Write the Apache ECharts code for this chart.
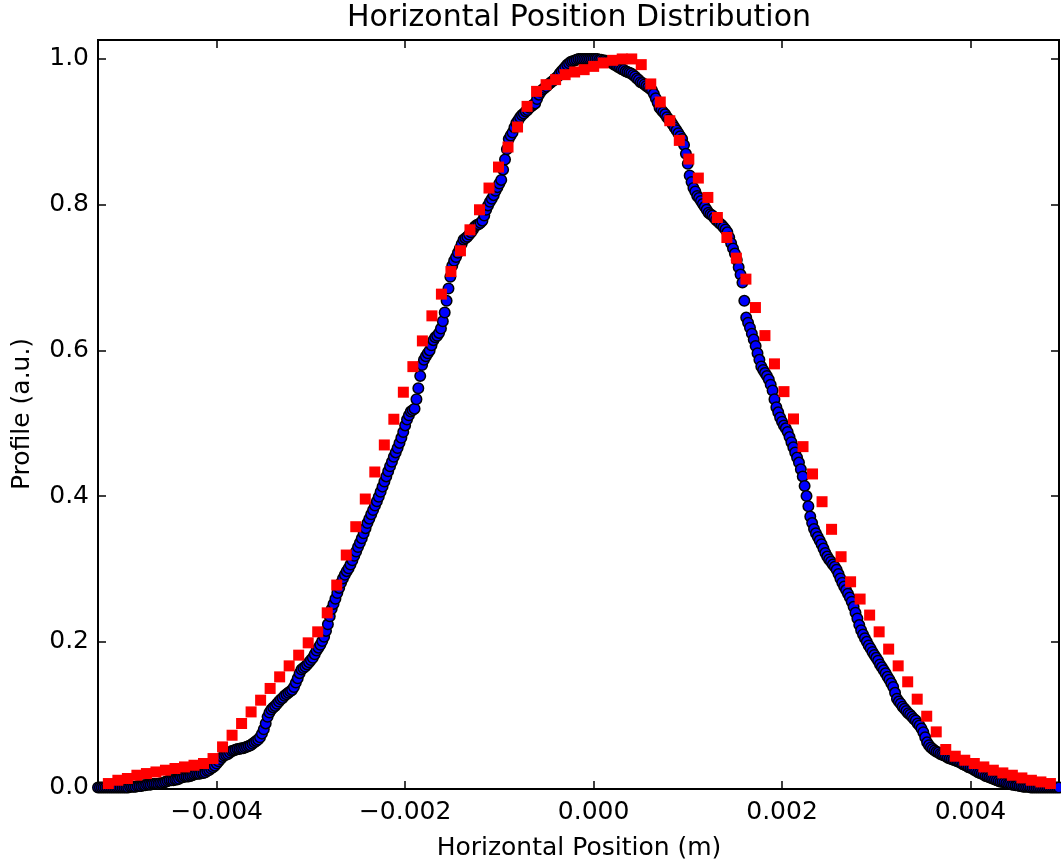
<!DOCTYPE html>
<html>
<head>
<meta charset="utf-8">
<script src="https://cdn.jsdelivr.net/npm/echarts@6/dist/echarts.min.js"></script>
<style>
html,body{margin:0;padding:0;background:#fff;}
#chart{width:1061px;height:865px;}
</style>
</head>
<body>
<div id="chart"></div>
<script>
// ---- data ----
const xTicks = [-0.004, -0.002, 0, 0.002, 0.004];
const yTicks = [0, 0.2, 0.4, 0.6, 0.8, 1.0];

// red squares: position (m) and profile
const redX = [
-0.005150,-0.005049,-0.004948,-0.004847,-0.004746,-0.004645,-0.004544,-0.004443,-0.004342,-0.004241,
-0.004140,-0.004039,-0.003938,-0.003837,-0.003736,-0.003635,-0.003534,-0.003433,-0.003332,-0.003231,
-0.003130,-0.003029,-0.002928,-0.002827,-0.002726,-0.002625,-0.002524,-0.002423,-0.002322,-0.002221,
-0.002120,-0.002019,-0.001918,-0.001817,-0.001716,-0.001615,-0.001514,-0.001413,-0.001312,-0.001211,
-0.001110,-0.001009,-0.000908,-0.000807,-0.000706,-0.000605,-0.000504,-0.000403,-0.000302,-0.000201,
-0.000100,0.000001,0.000102,0.000203,0.000304,0.000405,0.000506,0.000607,0.000708,0.000809,
0.000910,0.001011,0.001112,0.001213,0.001314,0.001415,0.001516,0.001617,0.001718,0.001819,
0.001920,0.002021,0.002122,0.002223,0.002324,0.002425,0.002526,0.002627,0.002728,0.002829,
0.002930,0.003031,0.003132,0.003233,0.003334,0.003435,0.003536,0.003637,0.003738,0.003839,
0.003940,0.004041,0.004142,0.004243,0.004344,0.004445,0.004546,0.004647,0.004748,0.004849
];
const redY = [
0.0055,0.0100,0.0124,0.0169,0.0192,0.0214,0.0238,0.0261,0.0283,0.0306,
0.0330,0.0398,0.0558,0.0718,0.0879,0.1038,0.1199,0.1360,0.1519,0.1670,
0.1817,0.1986,0.2137,0.2398,0.2779,0.3191,0.3580,0.3960,0.4331,0.4702,
0.5055,0.5426,0.5777,0.6130,0.6474,0.6772,0.7082,0.7367,0.7655,0.7930,
0.8228,0.8516,0.8791,0.9066,0.9349,0.9555,0.9647,0.9716,0.9784,0.9821,
0.9853,0.9898,0.9945,0.9981,1.0000,1.0000,0.9922,0.9657,0.9409,0.9152,
0.8882,0.8626,0.8365,0.8099,0.7824,0.7549,0.7266,0.6978,0.6588,0.6203,
0.5815,0.5434,0.5059,0.4679,0.4304,0.3923,0.3544,0.3168,0.2824,0.2587,
0.2367,0.2137,0.1900,0.1670,0.1451,0.1213,0.0979,0.0764,0.0522,0.0430,
0.0375,0.0330,0.0283,0.0238,0.0201,0.0169,0.0132,0.0100,0.0077,0.0055
];

// blue circles: position in micrometres and profile
const blueXum = [
-5260,-5240,-5220,-5200,-5180,-5160,-5140,-5120,-5100,-5080,-5060,-5040,-5020,-5000,-4980,-4960,-4940,-4920,-4900,-4880,
-4860,-4840,-4820,-4800,-4780,-4760,-4740,-4720,-4700,-4680,-4660,-4640,-4620,-4600,-4580,-4560,-4540,-4520,-4500,-4480,
-4460,-4440,-4420,-4400,-4380,-4360,-4340,-4320,-4300,-4280,-4260,-4240,-4220,-4200,-4180,-4160,-4140,-4120,-4100,-4080,
-4060,-4040,-4020,-4000,-3980,-3960,-3940,-3920,-3900,-3880,-3860,-3840,-3820,-3800,-3780,-3760,-3740,-3720,-3700,-3680,
-3660,-3640,-3620,-3600,-3580,-3560,-3540,-3520,-3500,-3480,-3460,-3440,-3420,-3400,-3380,-3360,-3340,-3320,-3300,-3280,
-3260,-3240,-3220,-3200,-3180,-3160,-3140,-3120,-3100,-3080,-3060,-3040,-3020,-3000,-2980,-2960,-2940,-2920,-2900,-2880,
-2860,-2840,-2820,-2800,-2780,-2760,-2740,-2720,-2700,-2680,-2660,-2640,-2620,-2600,-2580,-2560,-2540,-2520,-2500,-2480,
-2460,-2440,-2420,-2400,-2380,-2360,-2340,-2320,-2300,-2280,-2260,-2240,-2220,-2200,-2180,-2160,-2140,-2120,-2100,-2080,
-2060,-2040,-2020,-2000,-1980,-1960,-1940,-1920,-1900,-1880,-1860,-1840,-1820,-1800,-1780,-1760,-1740,-1720,-1700,-1680,
-1660,-1640,-1620,-1600,-1580,-1560,-1540,-1520,-1500,-1480,-1460,-1440,-1420,-1400,-1380,-1360,-1340,-1320,-1300,-1280,
-1260,-1240,-1220,-1200,-1180,-1160,-1140,-1120,-1100,-1080,-1060,-1040,-1020,-1000,-980,-960,-940,-920,-900,-880,
-860,-840,-820,-800,-780,-760,-740,-720,-700,-680,-660,-640,-620,-600,-580,-560,-540,-520,-500,-480,
-460,-440,-420,-400,-380,-360,-340,-320,-300,-280,-260,-240,-220,-200,-180,-160,-140,-120,-100,-80,
-60,-40,-20,0,20,40,60,80,100,120,140,160,180,200,220,240,260,280,300,320,
340,360,380,400,420,440,460,480,500,520,540,560,580,600,620,640,660,680,700,720,
740,760,780,800,820,840,860,880,900,920,940,960,980,1000,1020,1040,1060,1080,1100,1120,
1140,1160,1180,1200,1220,1240,1260,1280,1300,1320,1340,1360,1380,1400,1420,1440,1460,1480,1500,1520,
1540,1560,1580,1600,1620,1640,1660,1680,1700,1720,1740,1760,1780,1800,1820,1840,1860,1880,1900,1920,
1940,1960,1980,2000,2020,2040,2060,2080,2100,2120,2140,2160,2180,2200,2220,2240,2260,2280,2300,2320,
2340,2360,2380,2400,2420,2440,2460,2480,2500,2520,2540,2560,2580,2600,2620,2640,2660,2680,2700,2720,
2740,2760,2780,2800,2820,2840,2860,2880,2900,2920,2940,2960,2980,3000,3020,3040,3060,3080,3100,3120,
3140,3160,3180,3200,3220,3240,3260,3280,3300,3320,3340,3360,3380,3400,3420,3440,3460,3480,3500,3520,
3540,3560,3580,3600,3620,3640,3660,3680,3700,3720,3740,3760,3780,3800,3820,3840,3860,3880,3900,3920,
3940,3960,3980,4000,4020,4040,4060,4080,4100,4120,4140,4160,4180,4200,4220,4240,4260,4280,4300,4320,
4340,4360,4380,4400,4420,4440,4460,4480,4500,4520,4540,4560,4580,4600,4620,4640,4660,4680,4700,4720,
4740,4760,4780,4800,4820,4840,4860,4880,4900,4920,4940
];
const blueY = [
0.000,0.000,0.000,0.000,0.000,0.000,0.000,0.000,0.000,0.000,0.000,0.000,0.000,0.000,0.000,0.000,0.000,0.001,0.001,0.001,
0.001,0.002,0.002,0.002,0.003,0.003,0.004,0.004,0.004,0.005,0.005,0.005,0.005,0.006,0.006,0.007,0.008,0.009,0.010,0.010,
0.010,0.011,0.011,0.012,0.014,0.014,0.015,0.015,0.015,0.016,0.017,0.018,0.019,0.019,0.019,0.020,0.020,0.021,0.023,0.024,
0.026,0.028,0.030,0.033,0.036,0.039,0.042,0.044,0.045,0.046,0.048,0.050,0.051,0.052,0.053,0.053,0.054,0.054,0.055,0.056,
0.057,0.058,0.060,0.062,0.064,0.066,0.069,0.074,0.080,0.088,0.097,0.103,0.107,0.110,0.112,0.115,0.118,0.121,0.123,0.126,
0.128,0.130,0.132,0.134,0.138,0.144,0.150,0.157,0.162,0.164,0.166,0.169,0.172,0.175,0.178,0.183,0.188,0.192,0.196,0.201,
0.207,0.215,0.224,0.235,0.245,0.252,0.259,0.267,0.274,0.281,0.287,0.292,0.297,0.301,0.306,0.312,0.318,0.324,0.330,0.336,
0.342,0.349,0.356,0.363,0.369,0.375,0.381,0.387,0.393,0.399,0.406,0.413,0.420,0.427,0.434,0.441,0.447,0.454,0.460,0.466,
0.473,0.480,0.488,0.497,0.505,0.511,0.516,0.518,0.520,0.533,0.548,0.565,0.580,0.587,0.592,0.596,0.600,0.607,0.614,0.618,
0.620,0.624,0.630,0.640,0.652,0.668,0.685,0.701,0.716,0.723,0.728,0.734,0.740,0.746,0.752,0.754,0.756,0.759,0.762,0.766,
0.770,0.772,0.773,0.775,0.778,0.785,0.793,0.799,0.804,0.808,0.813,0.819,0.824,0.829,0.834,0.848,0.862,0.876,0.890,0.895,
0.899,0.906,0.912,0.916,0.920,0.923,0.925,0.928,0.930,0.933,0.935,0.937,0.939,0.945,0.951,0.955,0.958,0.960,0.962,0.965,
0.967,0.969,0.971,0.974,0.976,0.980,0.983,0.986,0.989,0.992,0.994,0.996,0.997,0.998,0.999,1.000,1.000,1.000,1.000,1.000,
1.000,1.000,1.000,1.000,1.000,1.000,0.999,0.999,0.998,0.998,0.997,0.996,0.995,0.994,0.992,0.991,0.989,0.988,0.986,0.985,
0.983,0.982,0.981,0.980,0.978,0.976,0.973,0.971,0.968,0.967,0.965,0.963,0.961,0.959,0.957,0.952,0.946,0.940,0.933,0.930,
0.927,0.924,0.920,0.917,0.914,0.910,0.906,0.902,0.898,0.894,0.890,0.882,0.870,0.856,0.840,0.831,0.823,0.818,0.812,0.809,
0.805,0.801,0.797,0.793,0.789,0.787,0.785,0.782,0.779,0.777,0.774,0.772,0.769,0.766,0.762,0.755,0.747,0.740,0.733,0.724,
0.714,0.704,0.693,0.668,0.645,0.638,0.631,0.623,0.615,0.606,0.596,0.587,0.578,0.573,0.569,0.565,0.560,0.553,0.545,0.533,
0.522,0.515,0.508,0.502,0.497,0.493,0.488,0.481,0.474,0.467,0.460,0.453,0.446,0.437,0.427,0.414,0.400,0.386,0.372,0.363,
0.355,0.349,0.344,0.339,0.334,0.328,0.322,0.317,0.313,0.310,0.306,0.303,0.299,0.293,0.287,0.281,0.276,0.271,0.266,0.261,
0.255,0.248,0.240,0.232,0.223,0.216,0.210,0.205,0.200,0.195,0.191,0.186,0.182,0.178,0.174,0.169,0.165,0.161,0.157,0.152,
0.148,0.143,0.138,0.130,0.122,0.118,0.115,0.111,0.108,0.105,0.102,0.100,0.097,0.094,0.092,0.088,0.085,0.081,0.076,0.069,
0.062,0.058,0.055,0.053,0.051,0.049,0.048,0.046,0.045,0.044,0.043,0.041,0.040,0.039,0.038,0.037,0.036,0.035,0.034,0.032,
0.031,0.030,0.028,0.027,0.026,0.024,0.023,0.021,0.020,0.019,0.018,0.016,0.015,0.014,0.013,0.012,0.011,0.010,0.009,0.008,
0.008,0.007,0.006,0.005,0.005,0.004,0.004,0.003,0.003,0.002,0.002,0.001,0.001,0.001,0.001,0.000,0.000,0.000,0.000,0.000,
0.000,0.000,0.000,0.000,0.000,0.000,0.000,0.000,0.000,0.000,0.000
];

const xMin = -0.00526, xMax = 0.00494;
const yMin = -0.002, yMax = 1.026;

// ---- chart ----
const FONT = 'DejaVu Sans';
const fmtX = v => (Math.abs(v) < 1e-12 ? '0.000' : (v < 0 ? '\u2212' : '') + Math.abs(v).toFixed(3));
const fmtY = v => v.toFixed(1);
const tickStyle = {color: '#000', width: 1.5};

function xAx(pos, showLabel) {
  return {
    type: 'value', min: xMin, max: xMax, position: pos, gridIndex: 0,
    axisLine: {show: false, onZero: false}, splitLine: {show: false},
    axisTick: {show: true, inside: true, length: 8, lineStyle: tickStyle, customValues: xTicks},
    axisLabel: {show: showLabel, customValues: xTicks, formatter: fmtX,
      fontFamily: FONT, fontSize: 25, color: '#000', margin: 11}
  };
}
function yAx(pos, showLabel) {
  return {
    type: 'value', min: yMin, max: yMax, position: pos, gridIndex: 0,
    axisLine: {show: false, onZero: false}, splitLine: {show: false},
    axisTick: {show: true, inside: true, length: 8, lineStyle: tickStyle, customValues: yTicks},
    axisLabel: {show: showLabel, customValues: yTicks, formatter: fmtY,
      fontFamily: FONT, fontSize: 25, color: '#000', margin: 9}
  };
}

const chart = echarts.init(document.getElementById('chart'), null, {renderer: 'canvas'});
chart.setOption({
  animation: false,
  backgroundColor: '#ffffff',
  grid: {left: 98, top: 40, right: 2, bottom: 76, show: true,
    borderColor: '#000', borderWidth: 2, backgroundColor: 'transparent'},
  xAxis: [xAx('bottom', true), xAx('top', false)],
  yAxis: [yAx('left', true), yAx('right', false)],
  series: [
    {type: 'scatter', xAxisIndex: 0, yAxisIndex: 0,
     data: blueXum.map((x, i) => [x * 1e-6, blueY[i]]),
     symbol: 'circle', symbolSize: 10.5,
     itemStyle: {color: '#0000ff', borderColor: '#000', borderWidth: 1.5, opacity: 1}},
    {type: 'scatter', xAxisIndex: 0, yAxisIndex: 0,
     data: redX.map((x, i) => [x, redY[i]]),
     symbol: 'rect', symbolSize: 11,
     itemStyle: {color: '#ff0000', opacity: 1}}
  ],
  graphic: [
    {type: 'text', x: 579, y: 18, z: 10,
     style: {text: 'Horizontal Position Distribution', fill: '#000',
       font: '30px "DejaVu Sans"', textAlign: 'center', textVerticalAlign: 'middle'}},
    {type: 'text', x: 579, y: 848, z: 10,
     style: {text: 'Horizontal Position (m)', fill: '#000',
       font: '25px "DejaVu Sans"', textAlign: 'center', textVerticalAlign: 'middle'}},
    {type: 'text', x: 22, y: 414, rotation: Math.PI / 2, z: 10,
     style: {text: 'Profile (a.u.)', fill: '#000',
       font: '25px "DejaVu Sans"', textAlign: 'center', textVerticalAlign: 'middle'}}
  ]
});
</script>
</body>
</html>
